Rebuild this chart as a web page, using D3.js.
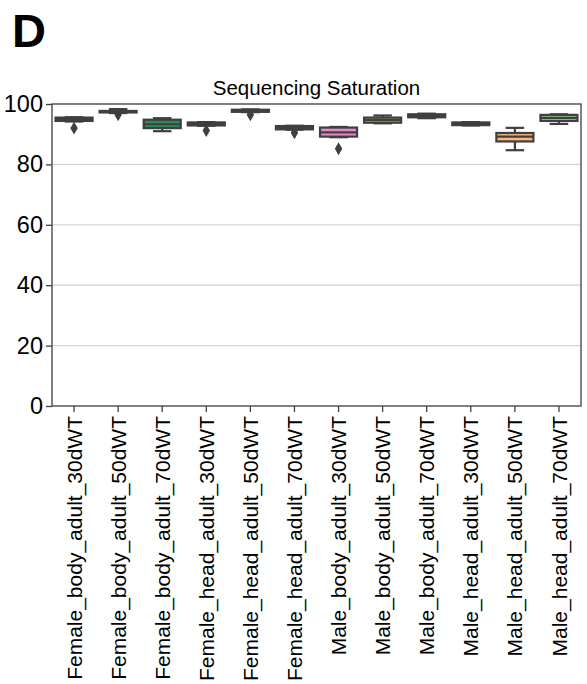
<!DOCTYPE html>
<html>
<head>
<meta charset="utf-8">
<script src="https://cdn.jsdelivr.net/npm/d3@7"></script>
<style>
  html, body { margin: 0; padding: 0; background: #fff; }
  svg { display: block; font-family: "Liberation Sans", Arial, sans-serif; }
</style>
</head>
<body>
<svg id="chart" width="587" height="684"></svg>
<script>
const categories = [
  "Female_body_adult_30dWT", "Female_body_adult_50dWT", "Female_body_adult_70dWT",
  "Female_head_adult_30dWT", "Female_head_adult_50dWT", "Female_head_adult_70dWT",
  "Male_body_adult_30dWT", "Male_body_adult_50dWT", "Male_body_adult_70dWT",
  "Male_head_adult_30dWT", "Male_head_adult_50dWT", "Male_head_adult_70dWT"
];
const whiskerLow  = [94.2, 97.0, 91.0, 92.8, 97.3, 91.5, 89.0, 93.6, 95.3, 92.9, 84.7, 93.4];
const q1          = [94.4, 97.2, 92.0, 92.9, 97.4, 91.6, 89.2, 93.8, 95.6, 93.0, 87.6, 94.4];
const medians     = [95.0, 97.5, 93.3, 93.4, 97.8, 92.2, 90.6, 94.7, 96.1, 93.5, 89.2, 95.4];
const q3          = [95.5, 97.7, 94.8, 93.9, 98.1, 92.7, 92.2, 95.5, 96.6, 93.9, 90.4, 96.4];
const whiskerHigh = [95.6, 98.3, 95.3, 94.0, 98.2, 92.8, 92.4, 96.2, 96.8, 94.0, 92.1, 96.6];
const outliers    = [[92.0], [96.4], [], [91.2], [96.4], [90.5], [85.2], [], [], [], [], []];
const boxColors   = ["#4a6fa5", "#6a5a9e", "#2e8b57", "#7a4a8a", "#b05a3a", "#5a6a7a",
                     "#e48ac8", "#a3a86a", "#3a7aa0", "#8a5a5a", "#f9b77c", "#8fd48a"];
const yTicks = [0, 20, 40, 60, 80, 100];
const title = "Sequencing Saturation";
const panelLabel = "D";

const svg = d3.select("#chart");
const margin = { left: 52, right: 6, top: 104, bottom: 278 };
const W = 587, H = 684;
const x = d3.scaleBand().domain(categories).range([margin.left, W - margin.right]).paddingInner(0).paddingOuter(0);
const y = d3.scaleLinear().domain([0, 100]).range([H - margin.bottom, margin.top]);
const edge = "#3f3f3f";

// panel label
svg.append("text").attr("x", 12).attr("y", 47)
  .attr("font-size", 47).attr("font-weight", "bold").attr("fill", "#000")
  .text(panelLabel);

// title
svg.append("text").attr("x", (margin.left + W - margin.right) / 2).attr("y", 95)
  .attr("text-anchor", "middle").attr("font-size", 20.5).attr("fill", "#000")
  .text(title);

// grid
svg.append("g").selectAll("line").data(yTicks.filter(d => d > 0 && d < 100)).join("line")
  .attr("x1", margin.left).attr("x2", W - margin.right)
  .attr("y1", d => y(d)).attr("y2", d => y(d))
  .attr("stroke", "#d4d4d4").attr("stroke-width", 1.2);

// y axis
const yAxis = svg.append("g").attr("transform", `translate(${margin.left},0)`)
  .call(d3.axisLeft(y).tickValues(yTicks).tickSize(6).tickPadding(3));
yAxis.select(".domain").remove();
yAxis.selectAll("line").attr("stroke", edge).attr("stroke-width", 1.3);
yAxis.selectAll("text").attr("font-size", 23.5).attr("fill", "#000")
  .attr("font-family", "Liberation Sans, Arial, sans-serif");

// x axis
const xAxis = svg.append("g").attr("transform", `translate(0,${H - margin.bottom})`)
  .call(d3.axisBottom(x).tickSize(6).tickPadding(3));
xAxis.select(".domain").remove();
xAxis.selectAll("line").attr("stroke", edge).attr("stroke-width", 1.3);
xAxis.selectAll("text")
  .attr("font-size", 21).attr("fill", "#000")
  .attr("font-family", "Liberation Sans, Arial, sans-serif")
  .attr("transform", "rotate(-90)")
  .attr("text-anchor", "end")
  .attr("x", -10).attr("y", 0).attr("dy", "0.36em");

// boxes
const bw = x.bandwidth() * 0.84;
const g = svg.append("g");
categories.forEach((c, i) => {
  const cx = x(c) + x.bandwidth() / 2;
  const gg = g.append("g");
  gg.append("line").attr("x1", cx).attr("x2", cx).attr("y1", y(q3[i])).attr("y2", y(whiskerHigh[i]))
    .attr("stroke", edge).attr("stroke-width", 2.2);
  gg.append("line").attr("x1", cx).attr("x2", cx).attr("y1", y(q1[i])).attr("y2", y(whiskerLow[i]))
    .attr("stroke", edge).attr("stroke-width", 2.2);
  [whiskerHigh[i], whiskerLow[i]].forEach(v => {
    gg.append("line").attr("x1", cx - bw / 4).attr("x2", cx + bw / 4)
      .attr("y1", y(v)).attr("y2", y(v)).attr("stroke", edge).attr("stroke-width", 2.2);
  });
  gg.append("rect").attr("x", cx - bw / 2).attr("width", bw)
    .attr("y", y(q3[i])).attr("height", Math.max(0.5, y(q1[i]) - y(q3[i])))
    .attr("fill", boxColors[i]).attr("stroke", edge).attr("stroke-width", 2.2);
  gg.append("line").attr("x1", cx - bw / 2).attr("x2", cx + bw / 2)
    .attr("y1", y(medians[i])).attr("y2", y(medians[i]))
    .attr("stroke", edge).attr("stroke-width", 2.2);
  outliers[i].forEach(v => {
    gg.append("path").attr("d", d3.symbol(d3.symbolDiamond, 48)())
      .attr("transform", `translate(${cx},${y(v)})`).attr("fill", edge);
  });
});

// spines
svg.append("rect").attr("x", margin.left).attr("y", margin.top)
  .attr("width", W - margin.right - margin.left).attr("height", H - margin.bottom - margin.top)
  .attr("fill", "none").attr("stroke", "#4a4a4a").attr("stroke-width", 1.4);
</script>
</body>
</html>
